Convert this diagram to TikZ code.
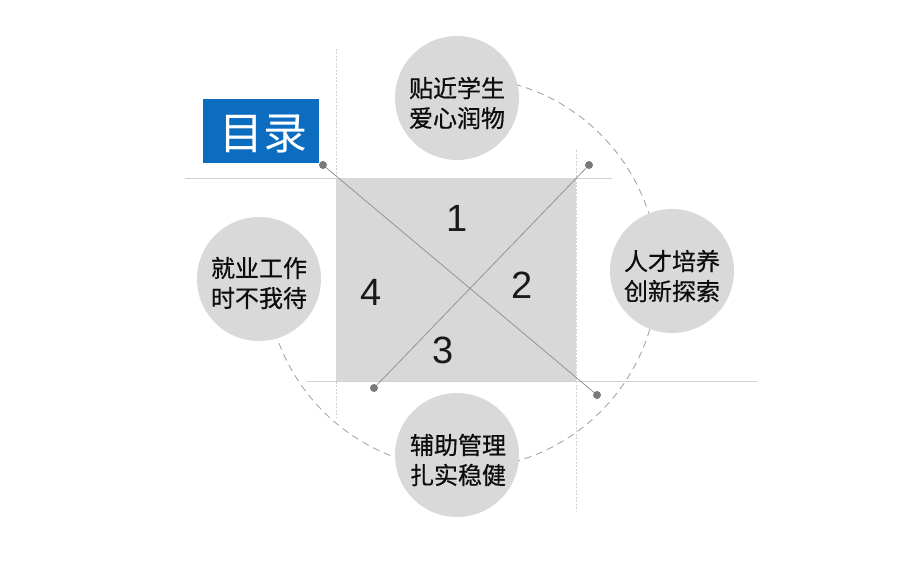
\documentclass[tikz,border=0pt]{standalone}
\usepackage{fontspec}
\setmainfont{Liberation Sans}
\newfontfamily\cjk[FakeBold=0.6]{Noto Sans CJK SC}
\newfontfamily\cjktitle{Noto Sans CJK SC}
\definecolor{boxgray}{HTML}{D8D8D8}
\definecolor{bubgray}{HTML}{D9D9D9}
\definecolor{guidegray}{HTML}{D0D0D0}
\definecolor{diaggray}{HTML}{959595}
\definecolor{dotgray}{HTML}{7A7A7A}
\definecolor{dashgray}{HTML}{A6A6A6}
\definecolor{titleblue}{HTML}{0C6DC0}
\tikzset{
  guideh/.style={draw=guidegray, line width=0.9pt},
  guidev/.style={draw=guidegray, line width=0.9pt, dash pattern=on 2pt off 1.5pt},
  diag/.style={draw=diaggray, line width=0.8pt},
  dotnode/.style={circle, fill=dotgray, inner sep=0pt, minimum size=8pt},
  bub/.style={circle, fill=bubgray, inner sep=0pt, minimum size=124pt},
  bubtext/.style={align=center, inner sep=0pt,
    font=\cjk\fontsize{24}{30}\selectfont, text=black!95},
  numlabel/.style={font=\fontsize{38}{40}\selectfont, text=black!90, inner sep=0pt},
  ring/.style={draw=dashgray, line width=0.9pt, dash pattern=on 7pt off 5pt}
}
\begin{document}
\begin{tikzpicture}[x=1pt,y=-1pt]
\useasboundingbox (0,0) rectangle (920,575);
% guide lines
\draw[guidev] (336,49) -- (336,418);
\draw[guidev] (576,150) -- (576,512);
\draw[guideh] (185,178) -- (612,178);
\draw[guideh] (307,381) -- (757,381);
% square
\node[fill=boxgray, inner sep=0pt, minimum width=240pt, minimum height=203pt] (sq) at (456,279.5) {};
% dashed ring (three quarters, clockwise from top to left)
\coordinate (ringc) at (462,273);
\draw[ring] ([shift={(-85:196)}]ringc) arc[start angle=-85, end angle=170, radius=196];
% numbers
\node[numlabel] (n1) at (457,218) {1};
\node[numlabel] (n2) at (522,285) {2};
\node[numlabel] (n3) at (443,350) {3};
\node[numlabel] (n4) at (371,292) {4};
% dots and diagonals
\node[dotnode] (da) at (323,165) {};
\node[dotnode] (db) at (589,165) {};
\node[dotnode] (dc) at (374,388) {};
\node[dotnode] (dd) at (597,395) {};
\draw[diag] (da) -- (dd);
\draw[diag] (db) -- (dc);
% bubbles
\node[bub] (top) at (457,98) {};
\node[bub] (right) at (672,271) {};
\node[bub] (bottom) at (457,455) {};
\node[bub] (left) at (259,279) {};
\node[bubtext] (toptxt) at (457,103) {贴近学生\\爱心润物};
\node[bubtext] (righttxt) at (672,276) {人才培养\\创新探索};
\node[bubtext] (bottomtxt) at (458,460) {辅助管理\\扎实稳健};
\node[bubtext] (lefttxt) at (259,283) {就业工作\\时不我待};
% title
\node[fill=titleblue, inner sep=0pt, minimum width=116pt, minimum height=64pt] (title) at (261,131) {};
\node[font=\cjktitle\fontsize{44}{46}\selectfont, text=white, inner sep=0pt] (titletxt) at (263,134) {目录};
\end{tikzpicture}
\end{document}
